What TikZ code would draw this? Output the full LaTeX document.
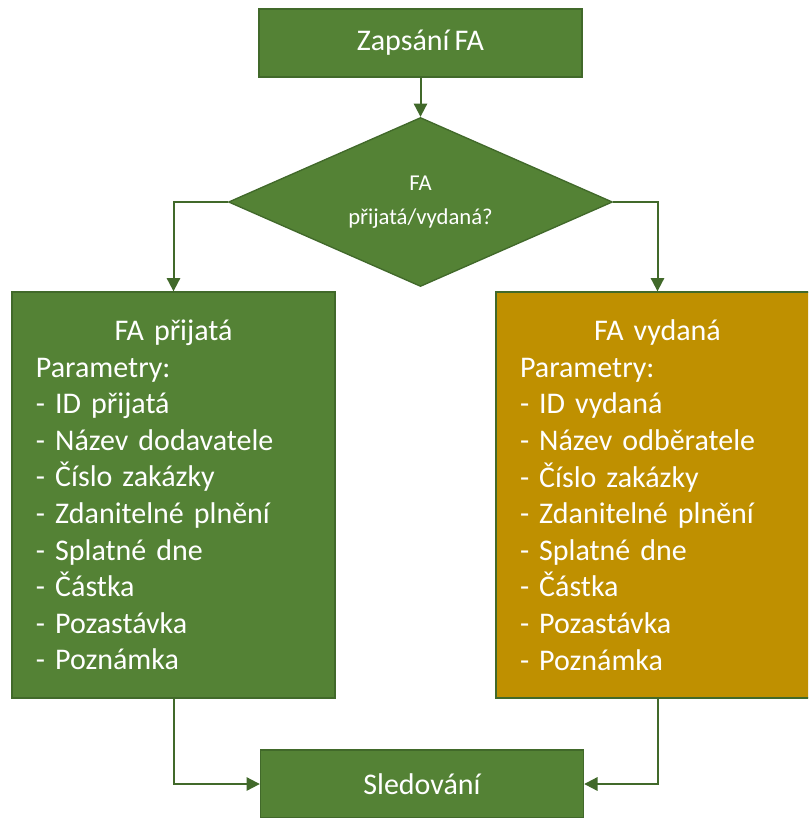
\documentclass[tikz,border=0pt]{standalone}
\usepackage{fontspec}
\setmainfont{Carlito}[WordSpace=0.75]
\usetikzlibrary{shapes.geometric,arrows.meta,positioning}
\definecolor{boxgreen}{HTML}{548235}
\definecolor{edgegreen}{HTML}{41692A}
\definecolor{boxgold}{HTML}{BF9000}
\tikzset{
  procbox/.style={draw=edgegreen, line width=1pt, fill=boxgreen, text=white, minimum width=242.25pt, minimum height=51pt, inner sep=0pt, font=\fontsize{22.5}{27}\selectfont},
  listbox/.style={draw=edgegreen, line width=1pt, fill=boxgreen, text=white, text width=206.25pt, minimum width=242.25pt, minimum height=304.5pt, inner xsep=18pt, inner ysep=0pt, align=left, font=\fontsize{22.5}{27.45}\selectfont},
  decbox/.style={diamond, aspect=2.27, draw=edgegreen, line width=1pt, fill=boxgreen, text=white, minimum width=288pt, minimum height=126.75pt, inner sep=0pt, align=center, font=\fontsize{17}{25.5}\selectfont},
  link/.style={draw=edgegreen, line width=1.5pt, -{Triangle[width=10pt,length=10pt]}}
}
\begin{document}
\begin{tikzpicture}[x=0.75pt,y=-0.75pt]
\useasboundingbox (0,0) rectangle (808,818);
\clip (0,0) rectangle (808,818);
\node[procbox] (zapis) at (420.5,43) {Zapsání FA};
\node[decbox] (typ) at (420.5,202) {FA\\přijatá/vydaná?};
\node[listbox] (prijata) at (173.5,495) {\makebox[206.25pt]{FA přijatá}\\Parametry:\\- ID přijatá\\- Název dodavatele\\- Číslo zakázky\\- Zdanitelné plnění\\- Splatné dne\\- Částka\\- Pozastávka\\- Poznámka};
\node[listbox, fill=boxgold] (vydana) at (657.5,495) {\makebox[206.25pt]{FA vydaná}\\Parametry:\\- ID vydaná\\- Název odběratele\\- Číslo zakázky\\- Zdanitelné plnění\\- Splatné dne\\- Částka\\- Pozastávka\\- Poznámka};
\node[procbox] (sled) at (422,784) {Sledování};
\draw[link] (zapis) -- (typ);
\draw[link] (typ.west) -| (prijata.north);
\draw[link] (typ.east) -| (vydana.north);
\draw[link] (prijata.south) |- (sled.west);
\draw[link] (vydana.south) |- (sled.east);
\end{tikzpicture}
\end{document}
